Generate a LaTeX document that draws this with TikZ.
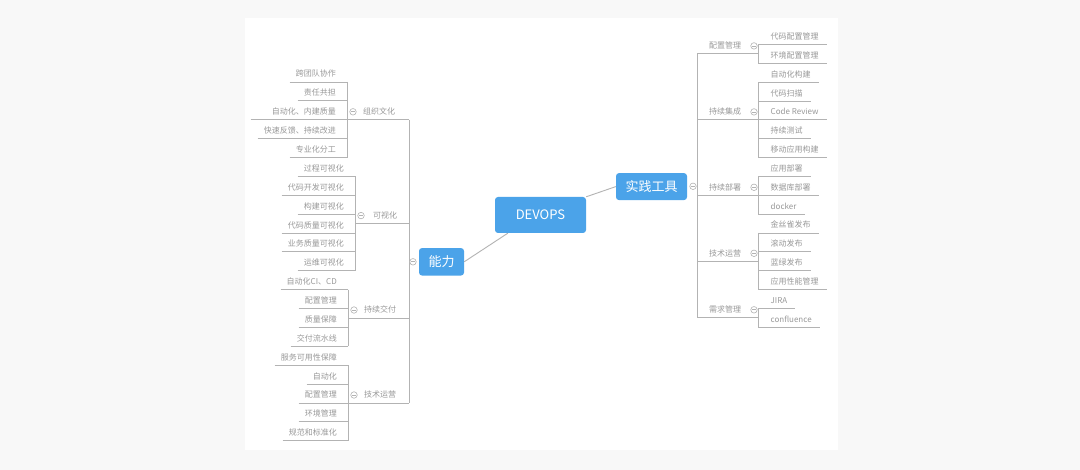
\documentclass[tikz,border=0pt]{standalone}
\usepackage{fontspec}
\setmainfont{Noto Sans CJK SC}
\usetikzlibrary{calc}
\definecolor{bgc}{HTML}{F8F8F8}
\definecolor{lnc}{HTML}{B3B3B3}
\definecolor{txc}{HTML}{999999}
\definecolor{blc}{HTML}{4BA3E9}
% left leaf: name, vertical x, index, text, extra underline to the left
\newcommand\myLeafL[5][6]{%
  \node[leaf,anchor=east] (#2) at ({#3-11},{74+18.88*(#4)}) {#5};
  \draw[lnk] ($(#2.west)+(-#1,8)$) -- ($(#2.east)+(11,8)$);}
% right leaf: name, index, text
\newcommand\myLeafR[3]{%
  \node[leaf,anchor=west] (#1) at (770.5,{36.5+18.85*(#2)}) {#3};
  \draw[lnk] ($(#1.west)+(-12.5,8)$) -- ($(#1.east)+(8,8)$);}
\begin{document}
\begin{tikzpicture}[x=1pt,y=-1pt,
  leaf/.style={font=\fontsize{8}{8}\selectfont, text=txc, inner sep=0pt, text height=7pt, text depth=1pt},
  lnk/.style={draw=lnc, line width=0.9pt},
  topic/.style={fill=blc, rounded corners=3pt, text=white, font=\fontsize{13}{13}\selectfont, inner sep=0pt},
  minus/.style={circle, draw=lnc, line width=0.6pt, fill=white, minimum size=6.5pt, inner sep=0pt,
    path picture={\draw[lnc,line width=0.6pt] ([xshift=-2pt]path picture bounding box.center) -- ([xshift=2pt]path picture bounding box.center);}}
]
\useasboundingbox (0,0) rectangle (1080,470);
\fill[bgc] (0,0) rectangle (1080,470);
\fill[white] (245,18.3) rectangle (837.7,450);

% ---- central topics
\node[topic, minimum width=91pt, minimum height=36pt] (dv) at (540.5,215) {DEVOPS};
\node[topic, minimum width=45pt, minimum height=27.5pt] (nl) at (441.5,261.8) {能力};
\node[topic, minimum width=71pt, minimum height=27pt] (sj) at (651.5,186.6) {实践工具};
\draw[lnk] (nl.east) -- ($(dv.south west)+(13,0)$);
\draw[lnk] (dv.north east) -- (sj.west);

% ---- left side
\coordinate (ML) at (409,0);
% group 1
\myLeafL{a0}{347}{0}{跨团队协作}
\myLeafL{a1}{347}{1}{责任共担}
\myLeafL[21]{a2}{347}{2}{自动化、内建质量}
\myLeafL{a3}{347}{3}{快速反馈、持续改进}
\myLeafL{a4}{347}{4}{专业化分工}
\draw[lnk] ($(a0.east)+(11,8)$) -- ($(a4.east)+(11,8)$);
\coordinate (g1u) at (347,119.8);
\node[leaf,anchor=west] (g1) at ($(g1u)+(16,-8)$) {组织文化};
\node[minus] (m1) at ($(g1u)+(6,-8)$) {};
\draw[lnk] (g1u) -- (ML |- g1u);
% group 2
\myLeafL{b0}{355}{5}{过程可视化}
\myLeafL{b1}{355}{6}{代码开发可视化}
\myLeafL{b2}{355}{7}{构建可视化}
\myLeafL{b3}{355}{8}{代码质量可视化}
\myLeafL{b4}{355}{9}{业务质量可视化}
\myLeafL{b5}{355}{10}{运维可视化}
\draw[lnk] ($(b0.east)+(11,8)$) -- ($(b5.east)+(11,8)$);
\coordinate (g2u) at (355,223.6);
\node[leaf,anchor=west] (g2) at ($(g2u)+(18,-8)$) {可视化};
\node[minus] (m2) at ($(g2u)+(6,-8)$) {};
\draw[lnk] (g2u) -- (ML |- g2u);
% group 3
\myLeafL{c0}{348}{11}{自动化CI、CD}
\myLeafL{c1}{348}{12}{配置管理}
\myLeafL{c2}{348}{13}{质量保障}
\myLeafL{c3}{348}{14}{交付流水线}
\draw[lnk] ($(c0.east)+(11,8)$) -- ($(c3.east)+(11,8)$);
\coordinate (g3u) at (348,318);
\node[leaf,anchor=west] (g3) at ($(g3u)+(16,-8)$) {持续交付};
\node[minus] (m3) at ($(g3u)+(6,-8)$) {};
\draw[lnk] (g3u) -- (ML |- g3u);
% group 4
\myLeafL{d0}{348}{15}{服务可用性保障}
\myLeafL{d1}{348}{16}{自动化}
\myLeafL{d2}{348}{17}{配置管理}
\myLeafL{d3}{348}{18}{环境管理}
\myLeafL{d4}{348}{19}{规范和标准化}
\draw[lnk] ($(d0.east)+(11,8)$) -- ($(d4.east)+(11,8)$);
\coordinate (g4u) at (348,403);
\node[leaf,anchor=west] (g4) at ($(g4u)+(16,-8)$) {技术运营};
\node[minus] (m4) at ($(g4u)+(6,-8)$) {};
\draw[lnk] (g4u) -- (ML |- g4u);
% main left vertical
\draw[lnk] (ML |- g1u) -- (ML |- g4u);
\node[minus] (mnl) at (413,261.8) {};

% ---- right side
\coordinate (MR) at (697,0);
\coordinate (VR) at (758,0);
% group r1
\myLeafR{e0}{0}{代码配置管理}
\myLeafR{e1}{1}{环境配置管理}
\draw[lnk] ($(e0.west)+(-12.5,8)$) -- ($(e1.west)+(-12.5,8)$);
\coordinate (r1u) at (697,53.9);
\node[leaf,anchor=west] (r1) at ($(r1u)+(12,-8)$) {配置管理};
\draw[lnk] (r1u) -- (VR |- r1u);
\node[minus] (n1) at ($(r1u)+(57,-8)$) {};
% group r2
\myLeafR{f0}{2}{自动化构建}
\myLeafR{f1}{3}{代码扫描}
\myLeafR{f2}{4}{Code Review}
\myLeafR{f3}{5}{持续测试}
\myLeafR{f4}{6}{移动应用构建}
\draw[lnk] ($(f0.west)+(-12.5,8)$) -- ($(f4.west)+(-12.5,8)$);
\coordinate (r2u) at (697,119.9);
\node[leaf,anchor=west] (r2) at ($(r2u)+(12,-8)$) {持续集成};
\draw[lnk] (r2u) -- (VR |- r2u);
\node[minus] (n2) at ($(r2u)+(57,-8)$) {};
% group r3
\myLeafR{h0}{7}{应用部署}
\myLeafR{h1}{8}{数据库部署}
\myLeafR{h2}{9}{docker}
\draw[lnk] ($(h0.west)+(-12.5,8)$) -- ($(h2.west)+(-12.5,8)$);
\coordinate (r3u) at (697,195.3);
\node[leaf,anchor=west] (r3) at ($(r3u)+(12,-8)$) {持续部署};
\draw[lnk] (r3u) -- (VR |- r3u);
\node[minus] (n3) at ($(r3u)+(57,-8)$) {};
% group r4
\myLeafR{k0}{10}{金丝雀发布}
\myLeafR{k1}{11}{滚动发布}
\myLeafR{k2}{12}{蓝绿发布}
\myLeafR{k3}{13}{应用性能管理}
\draw[lnk] ($(k0.west)+(-12.5,8)$) -- ($(k3.west)+(-12.5,8)$);
\coordinate (r4u) at (697,261.3);
\node[leaf,anchor=west] (r4) at ($(r4u)+(12,-8)$) {技术运营};
\draw[lnk] (r4u) -- (VR |- r4u);
\node[minus] (n4) at ($(r4u)+(57,-8)$) {};
% group r5
\myLeafR{p0}{14}{JIRA}
\myLeafR{p1}{15}{confluence}
\draw[lnk] ($(p0.west)+(-12.5,8)$) -- ($(p1.west)+(-12.5,8)$);
\coordinate (r5u) at (697,317.8);
\node[leaf,anchor=west] (r5) at ($(r5u)+(12,-8)$) {需求管理};
\draw[lnk] (r5u) -- (VR |- r5u);
\node[minus] (n5) at ($(r5u)+(57,-8)$) {};
% main right vertical
\draw[lnk] (r1u) -- (r5u);
\node[minus] (mnr) at (693,186.3) {};
\end{tikzpicture}
\end{document}
